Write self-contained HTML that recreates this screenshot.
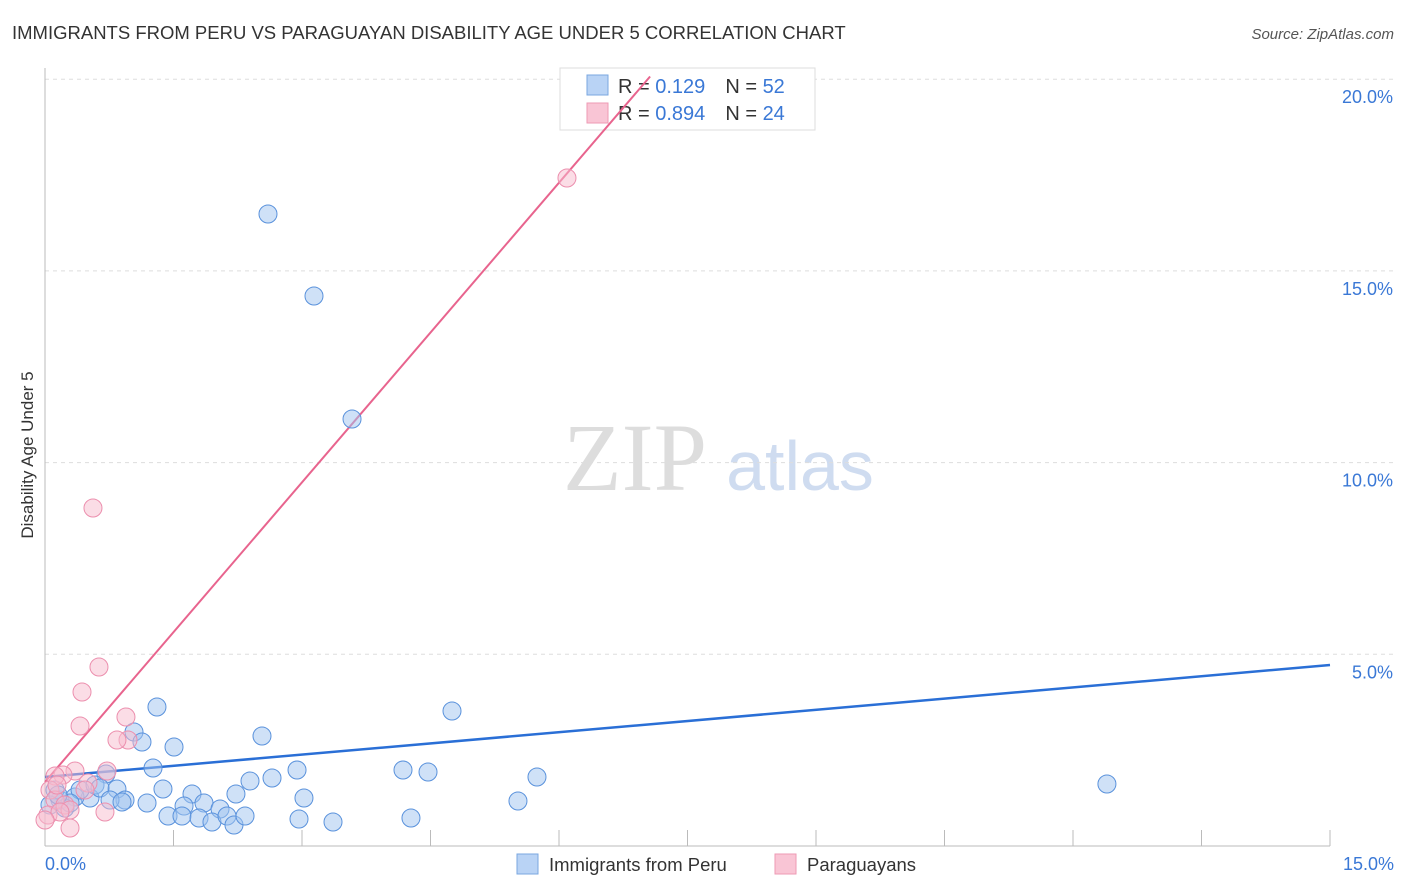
<!DOCTYPE html>
<html><head><meta charset="utf-8"><style>
body{margin:0;background:#fff;font-family:"Liberation Sans",sans-serif}
svg{display:block}
</style></head><body>
<svg id="chart" width="1406" height="892" xmlns="http://www.w3.org/2000/svg">
<text x="12" y="39" font-size="18.5" fill="#333">IMMIGRANTS FROM PERU VS PARAGUAYAN DISABILITY AGE UNDER 5 CORRELATION CHART</text>
<text x="1394" y="39" font-size="15" fill="#555" font-style="italic" text-anchor="end">Source: ZipAtlas.com</text>
<text x="0" y="0" transform="translate(33,455) rotate(-90)" font-size="17" fill="#333" text-anchor="middle">Disability Age Under 5</text>
<g><text x="635" y="490" font-size="96" font-family="Liberation Serif,serif" fill="#ddd" text-anchor="middle">ZIP</text><text x="800" y="490" font-size="70" fill="#cfdcf0" text-anchor="middle">atlas</text></g>
<g id="grid"></g><g id="axes"></g>
<g>
<rect x="560" y="68" width="255" height="62" fill="#fff" stroke="#ddd"/>
<rect x="587" y="75" width="21" height="20" fill="#b9d3f5" stroke="#7aa7e0"/>
<rect x="587" y="103" width="21" height="20" fill="#f9c5d5" stroke="#ee9ab4"/>
<text x="618" y="93" font-size="20" fill="#333">R = <tspan fill="#3a78d6"> 0.129</tspan><tspan dx="20" fill="#333">N = </tspan><tspan fill="#3a78d6">52</tspan></text>
<text x="618" y="120" font-size="20" fill="#333">R = <tspan fill="#3a78d6">0.894</tspan><tspan dx="20" fill="#333">N = </tspan><tspan fill="#3a78d6">24</tspan></text>
</g>
<g id="trends"></g><g id="points"></g>
<g>
<rect x="517" y="854" width="21" height="20" fill="#b9d3f5" stroke="#7aa7e0"/>
<text x="549" y="871" font-size="18.5" fill="#333">Immigrants from Peru</text>
<rect x="775" y="854" width="21" height="20" fill="#f9c5d5" stroke="#ee9ab4"/>
<text x="807" y="871" font-size="18.5" fill="#333">Paraguayans</text>
</g>
</svg>
<script>
const yTicks=[5,10,15,20];
const yTickLabels=["5.0%","10.0%","15.0%","20.0%"];
const xTickLabels=["0.0%","15.0%"];
const bluePx=[[268,214],[314,296],[352,419],[157,707],[452,711],[262,736],[134,732],[142,742],[174,747],[153,768],[106,774],[250,781],[272,778],[297,770],[403,770],[428,772],[537,777],[1107,784],[163,789],[192,794],[236,794],[304,798],[518,801],[117,789],[125,800],[147,803],[184,806],[204,803],[220,809],[168,816],[182,816],[199,818],[212,822],[227,816],[234,825],[245,816],[299,819],[333,822],[411,818],[90,798],[75,797],[60,800],[55,790],[50,805],[65,808],[80,790],[95,785],[100,788],[110,800],[122,802],[70,803],[58,795]];
const pinkPx=[[567,178],[93,508],[99,667],[82,692],[80,726],[126,717],[128,740],[117,740],[107,771],[75,771],[63,775],[55,776],[88,783],[50,790],[55,800],[65,805],[70,810],[48,815],[60,812],[105,812],[70,828],[45,820],[85,790],[57,785]];
const peruX=bluePx.map(p=>+((p[0]-45)/85.67).toFixed(3));
const peruY=bluePx.map(p=>+((846-p[1])/38.34).toFixed(3));
const paraX=pinkPx.map(p=>+((p[0]-45)/85.67).toFixed(3));
const paraY=pinkPx.map(p=>+((846-p[1])/38.34).toFixed(3));
const peruTrend=[1.80,4.72];
const paraTrend=[1.67,2.605];
const X0=45,X1=1330,Y0=846,PPX=(X1-X0)/15,PPY=38.34;
const sx=v=>X0+v*PPX, sy=v=>Y0-v*PPY;
const NS="http://www.w3.org/2000/svg";
function mk(parent,tag,attrs){const e=document.createElementNS(NS,tag);for(const k in attrs)e.setAttribute(k,attrs[k]);document.getElementById(parent).appendChild(e);return e;}
yTicks.forEach((t,i)=>{
  const l=mk("grid","line",{x1:X0,x2:1395,y1:sy(t),y2:sy(t),stroke:"#ddd","stroke-dasharray":"4,4"});
  
  
  const tx=mk("grid","text",{x:1393,y:sy(t)+24,"font-size":18,fill:"#3a78d6","text-anchor":"end"});
  tx.textContent=yTickLabels[i];
  
  
});
let a=mk("axes","line",{x1:X0,x2:X0,y1:68,y2:Y0,stroke:"#bbb"});


a=mk("axes","line",{x1:X0,x2:X1,y1:Y0,y2:Y0,stroke:"#bbb"});


for(let i=1;i<=10;i++){const t=mk("axes","line",{x1:sx(i*1.5),x2:sx(i*1.5),y1:830,y2:Y0,stroke:"#bbb"});

}
let xl=mk("axes","text",{x:45,y:870,"font-size":18,fill:"#3a78d6"});xl.textContent=xTickLabels[0];


xl=mk("axes","text",{x:1394,y:870,"font-size":18,fill:"#3a78d6","text-anchor":"end"});xl.textContent=xTickLabels[1];


let tl=mk("trends","line",{x1:sx(0),y1:sy(peruTrend[0]),x2:sx(15),y2:sy(peruTrend[1]),stroke:"#2a6fd6","stroke-width":2.5});


const pxEnd=(20.07-paraTrend[0])/paraTrend[1];
tl=mk("trends","line",{x1:sx(0),y1:sy(paraTrend[0]),x2:sx(pxEnd),y2:sy(paraTrend[0]+paraTrend[1]*pxEnd),stroke:"#e8648e","stroke-width":2});


peruX.forEach((x,i)=>{const c=mk("points","circle",{cx:sx(x),cy:sy(peruY[i]),r:9,fill:"rgba(160,196,240,0.5)",stroke:"#5a92dc","stroke-width":1});

});
paraX.forEach((x,i)=>{const c=mk("points","circle",{cx:sx(x),cy:sy(paraY[i]),r:9,fill:"rgba(248,188,206,0.5)",stroke:"#ec8fae","stroke-width":1});

});
</script>
</body></html>
